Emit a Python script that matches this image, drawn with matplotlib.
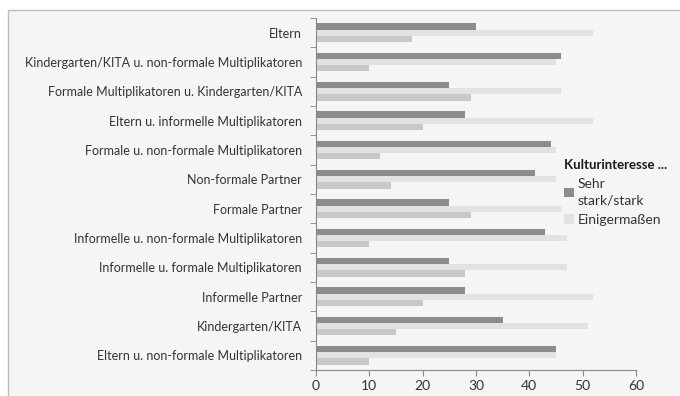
import numpy as np
import matplotlib.pyplot as plt
from matplotlib.patches import Rectangle, Patch

# ── data ──────────────────────────────────────────────────────────────────────
categories = [
    "Eltern",
    "Kindergarten/KITA u. non-formale Multiplikatoren",
    "Formale Multiplikatoren u. Kindergarten/KITA",
    "Eltern u. informelle Multiplikatoren",
    "Formale u. non-formale Multiplikatoren",
    "Non-formale Partner",
    "Formale Partner",
    "Informelle u. non-formale Multiplikatoren",
    "Informelle u. formale Multiplikatoren",
    "Informelle Partner",
    "Kindergarten/KITA",
    "Eltern u. non-formale Multiplikatoren",
]
sehr_stark = [30, 46, 25, 28, 44, 41, 25, 43, 25, 28, 35, 45]
einigermassen = [52, 45, 46, 52, 45, 45, 46, 47, 47, 52, 51, 45]
wenig = [18, 10, 29, 20, 12, 14, 29, 10, 28, 20, 15, 10]

legend_labels = ["Sehr\nstark/stark", "Einigermaßen"]
xticks = [0, 10, 20, 30, 40, 50, 60]

# ── style ─────────────────────────────────────────────────────────────────────
plt.rcParams['font.family'] = ['Lato', 'DejaVu Sans']
txt = '#333333'
c_dark, c_light, c_mid = '#8c8c8c', '#e2e2e2', '#c8c8c8'

fig = plt.figure(figsize=(6.8, 3.96), dpi=100, facecolor='white')
# chart area frame, drawn behind the axes
frame = Rectangle((8 / 680, -0.1), 0.99, 1 - 10 / 396 + 0.1,
                  transform=fig.transFigure, facecolor='#f5f5f5',
                  edgecolor='#bdbdbd', linewidth=1.0, zorder=-5)
fig.add_artist(frame)

ax = fig.add_axes([316 / 680, 26 / 396, 320 / 680, 352 / 396])
ax.set_facecolor('none')
ax.set_zorder(2)

n = len(categories)
y = np.arange(n)[::-1].astype(float)
h = 0.21
ax.barh(y + h, sehr_stark, height=h, color=c_dark, zorder=2)
ax.barh(y, einigermassen, height=h, color=c_light, zorder=2)
ax.barh(y - h, wenig, height=h, color=c_mid, zorder=2)

ax.set_ylim(-0.5, n - 0.5)
ax.set_xlim(0, 60)
ax.set_yticks(y)
ax.set_yticklabels(categories, fontsize=9, color=txt)
ax.set_yticks(np.arange(n + 1) - 0.5, minor=True)
ax.tick_params(axis='y', which='major', length=0, pad=10)
ax.tick_params(axis='y', which='minor', length=4, color='#888888')
ax.set_xticks(xticks)
ax.tick_params(axis='x', length=4, color='#888888', labelsize=10,
               labelcolor=txt, pad=3)

for side in ('top', 'right'):
    ax.spines[side].set_visible(False)
for side in ('left', 'bottom'):
    ax.spines[side].set_color('#888888')
    ax.spines[side].set_linewidth(0.8)

handles = [Patch(facecolor=c_dark), Patch(facecolor=c_light)]
leg = fig.legend(handles, legend_labels, title='Kulturinteresse ...',
                 loc='upper left', bbox_to_anchor=(557 / 680, 1 - 152 / 396),
                 frameon=False, fontsize=10, handlelength=0.7, handleheight=0.7,
                 handletextpad=0.3, labelspacing=0.5, borderpad=0,
                 alignment='left')
leg.get_title().set_fontweight('bold')
leg.get_title().set_fontsize(9.5)
leg.get_title().set_color('#1a1a1a')
for t in leg.get_texts():
    t.set_color(txt)
    t.set_linespacing(1.5)

fig.savefig('out.png', dpi=100, facecolor='white')
